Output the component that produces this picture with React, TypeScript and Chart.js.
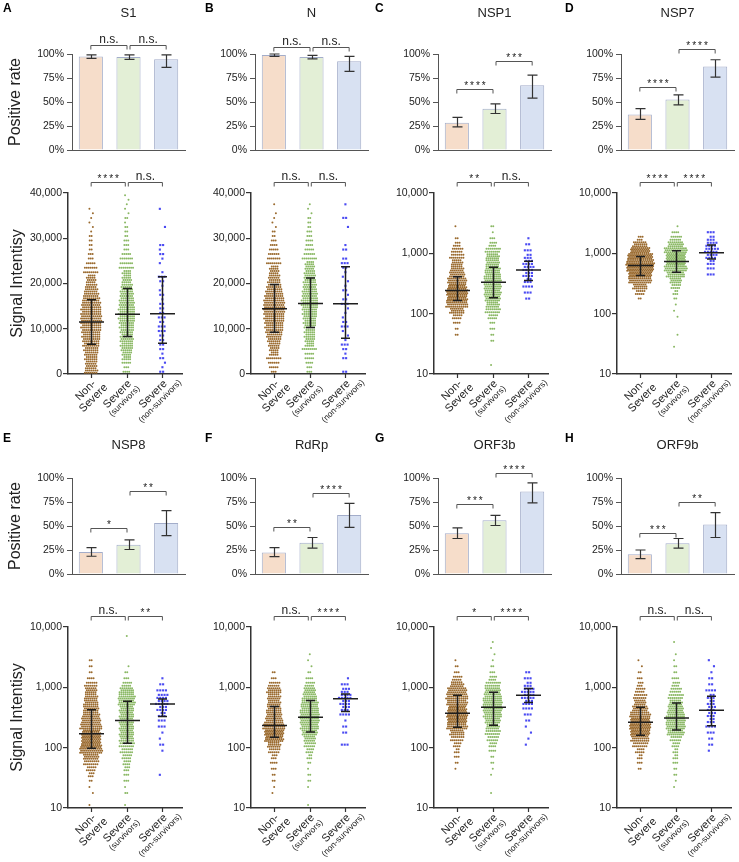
import React, { useEffect, useRef } from 'react';
import { Chart, registerables } from 'chart.js';
Chart.register(...registerables);

const FONT = '"Liberation Sans", Arial, Helvetica, sans-serif';

// ---------- DATA ----------
const panelLetters = ['A', 'B', 'C', 'D', 'E', 'F', 'G', 'H'];
const antigenNames = ['S1', 'N', 'NSP1', 'NSP7', 'NSP8', 'RdRp', 'ORF3b', 'ORF9b'];
const groupNames = ['Non-Severe', 'Severe (survivors)', 'Severe (non-survivors)'];
const xLabelLines = [['Non-', 'Severe'], ['Severe', '(survivors)'], ['Severe', '(non-survivors)']];
const rateTicks = [0, 25, 50, 75, 100];
const linearTicks = [0, 10000, 20000, 30000, 40000];
const logTicks = [10, 100, 1000, 10000];

// positive rate (%) with 95% CI
const positiveRate = [
  [97.5, 97, 94.5], [99, 96.8, 92.5], [28.5, 43, 67.5], [37, 52.5, 87],
  [23, 30.5, 53], [22.5, 32.5, 61.5], [42.5, 56, 86], [20.5, 32, 51.5],
];
const rateLower = [
  [95.5, 94.5, 86], [97.5, 95, 82], [24, 38, 54], [32, 47, 76],
  [18.5, 25.5, 40], [18, 27, 48.5], [37, 50.5, 74], [16, 27, 38],
];
const rateUpper = [
  [99, 99, 99], [100, 98.5, 97.5], [34, 48, 78], [43, 57.5, 94],
  [27.5, 35.5, 66], [27.5, 38, 73.5], [48, 61, 95], [25, 37, 64],
];
const rateBracketY = [
  [109, 109], [107, 107], [63.5, 93], [66, 105], [48, 86], [48.5, 84.5], [73, 105], [43, 75],
];
const rateSig = [
  ['n.s.', 'n.s.'], ['n.s.', 'n.s.'], ['****', '***'], ['****', '****'],
  ['*', '**'], ['**', '****'], ['***', '****'], ['***', '**'],
];
const intensitySig = [
  ['****', 'n.s.'], ['n.s.', 'n.s.'], ['**', 'n.s.'], ['****', '****'],
  ['n.s.', '**'], ['n.s.', '****'], ['*', '****'], ['n.s.', 'n.s.'],
];

// median and interquartile range of signal intensity
const intensityMedian = [
  [11500, 13200, 13300], [14400, 15600, 15500], [242, 332, 531], [628, 731, 1023],
  [170, 281, 531], [232, 318, 645], [372, 466, 740], [264, 309, 417],
];
const intensityQ1 = [
  [6600, 8300, 6800], [9200, 10300, 7900], [166, 183, 354], [430, 487, 809],
  [98, 118, 328], [149, 181, 398], [219, 236, 560], [160, 196, 230],
];
const intensityQ3 = [
  [16400, 18900, 21500], [19800, 21200, 23700], [411, 586, 736], [883, 1107, 1374],
  [427, 589, 642], [483, 606, 776], [740, 830, 960], [466, 550, 710],
];

// sample counts per intensity bin (linear: 1,000-wide bins from 0; log: 0.1-decade bins from start)
const s1Counts = [
  [14, 12, 12, 13, 14, 15, 17, 18, 19, 20, 21, 22, 22, 21, 21, 20, 18, 16, 14, 12, 10, 9, 8, 7, 5, 3, 3, 2, 2, 2, 2, 1, 1, 1, 1, 1, 1],
  [4, 3, 5, 9, 10, 12, 13, 14, 13, 14, 15, 16, 17, 17, 17, 16, 15, 14, 13, 12, 10, 9, 9, 8, 7, 7, 5, 3, 3, 3, 2, 2, 2, 1, 2, 1, 1, 1, 1, 1],
  [2, 1, 1, 2, 1, 2, 2, 2, 2, 3, 3, 2, 3, 2, 2, 2, 1, 2, 1, 1, 2, 3, 1, 0, 1, 1, 2, 1, 2, 0, 0, 0, 1, 0, 0, 0, 1],
];
const nCounts = [
  [3, 5, 6, 8, 9, 10, 12, 14, 16, 18, 19, 20, 21, 22, 22, 22, 21, 19, 17, 15, 13, 12, 10, 9, 8, 7, 6, 5, 4, 3, 2, 2, 1, 1, 1, 1, 0, 1],
  [3, 3, 4, 5, 5, 8, 9, 10, 11, 11, 12, 13, 14, 15, 16, 17, 17, 16, 15, 14, 13, 12, 11, 10, 9, 8, 6, 5, 4, 4, 3, 3, 2, 2, 2, 1, 1, 1],
  [2, 0, 0, 2, 1, 2, 3, 1, 1, 1, 3, 2, 1, 1, 1, 3, 2, 1, 2, 1, 1, 1, 1, 2, 3, 2, 0, 2, 1, 0, 0, 0, 1, 0, 2, 0, 0, 1],
];
const nsp1Start = [1.6, 1.1, 2.2];
const nsp1Counts = [
  [2, 2, 4, 10, 22, 34, 42, 44, 38, 30, 24, 20, 17, 15, 12, 7, 2, 0, 1],
  [1, 0, 0, 0, 2, 2, 3, 3, 10, 16, 20, 24, 26, 27, 27, 25, 23, 21, 20, 16, 8, 3, 1, 2],
  [2, 3, 4, 5, 7, 8, 7, 5, 3, 2, 1],
];
const nsp7Start = [2.2, 1.4, 2.6];
const nsp7Counts = [
  [2, 10, 22, 36, 48, 56, 58, 52, 40, 22, 6],
  [1, 0, 1, 0, 0, 1, 1, 1, 2, 5, 10, 18, 28, 36, 40, 40, 36, 24, 12, 4, 1],
  [3, 3, 5, 8, 10, 8, 5, 3],
];
const nsp8Start = [1.0, 1.0, 1.5];
const nsp8Counts = [
  [1, 0, 1, 1, 2, 6, 10, 16, 24, 36, 42, 40, 38, 34, 30, 26, 24, 22, 20, 18, 13, 4, 2, 2, 2],
  [1, 0, 2, 1, 3, 3, 6, 8, 10, 13, 16, 22, 22, 22, 22, 22, 22, 26, 26, 22, 10, 3, 2, 1, 0, 0, 0, 0, 1],
  [1, 0, 0, 0, 1, 2, 1, 1, 3, 3, 5, 7, 9, 8, 4, 2, 1],
];
const rdrpStart = [1.2, 1.0, 2.0];
const rdrpCounts = [
  [1, 1, 2, 2, 3, 4, 6, 12, 20, 38, 40, 34, 28, 24, 22, 20, 20, 22, 12, 3, 2],
  [1, 0, 0, 1, 2, 2, 1, 2, 5, 8, 12, 18, 24, 28, 30, 30, 28, 26, 22, 18, 10, 4, 2, 1, 1, 1],
  [3, 0, 2, 2, 1, 4, 6, 7, 9, 6, 3, 1],
];
const orf3bStart = [1.6, 1.2, 2.0];
const orf3bCounts = [
  [1, 2, 3, 5, 8, 14, 22, 32, 40, 42, 38, 32, 34, 30, 20, 10, 3, 2, 1],
  [1, 0, 0, 1, 1, 2, 2, 4, 8, 12, 16, 20, 24, 28, 30, 30, 28, 24, 16, 8, 3, 2, 1, 1, 1, 1],
  [1, 1, 1, 1, 2, 3, 4, 7, 9, 9, 5, 3, 2],
];
const orf9bStart = [1.6, 1.3, 1.9];
const orf9bCounts = [
  [2, 3, 5, 9, 16, 28, 40, 44, 40, 32, 24, 18, 14, 10, 6, 3, 2, 1, 1],
  [1, 1, 2, 2, 3, 5, 5, 8, 12, 26, 30, 30, 28, 24, 20, 16, 12, 8, 4, 2, 2, 1, 1, 0, 1],
  [1, 2, 2, 3, 4, 5, 6, 6, 5, 5, 4, 2, 2, 1, 1, 1],
];

const intensityCounts = [s1Counts, nCounts, nsp1Counts, nsp7Counts, nsp8Counts, rdrpCounts, orf3bCounts, orf9bCounts];
const intensityStarts = [[0, 0, 0], [0, 0, 0], nsp1Start, nsp7Start, nsp8Start, rdrpStart, orf3bStart, orf9bStart];
const isLogPanel = [false, false, true, true, true, true, true, true];

// ---------- STYLE / LAYOUT ----------
const barFills = ['#f6ddca', '#e3efd6', '#d8e1f2'];
const dotColors = ['#9a6a2e', '#8ab864', '#4a4af2'];
const colOffsets = [0, 183, 366, 549];
const barTops = [0, 424];
const scatterTops = [160, 594];
const letterX = [3, 205, 375, 565];
const titleY = [13, 21];
const letterY = [9, 15];
const CW = 186;
const BAR_H = 160;
const SC_H = 268;

function drawBracket(ctx: CanvasRenderingContext2D, x1: number, x2: number, yRaw: number, text: string) {
  const y = Math.round(yRaw) + 0.5;
  ctx.save();
  ctx.strokeStyle = '#555';
  ctx.lineWidth = 1;
  ctx.beginPath();
  ctx.moveTo(x1, y + 4);
  ctx.lineTo(x1, y);
  ctx.lineTo(x2, y);
  ctx.lineTo(x2, y + 4);
  ctx.stroke();
  ctx.fillStyle = '#222';
  ctx.textAlign = 'center';
  ctx.textBaseline = 'alphabetic';
  const mid = (x1 + x2) / 2;
  if (text.startsWith('*')) {
    ctx.font = `10px ${FONT}`;
    (ctx as any).letterSpacing = '2px';
    ctx.fillText(text, mid + 1, y - 1);
  } else {
    ctx.font = `12px ${FONT}`;
    ctx.fillText(text, mid, y - 3);
  }
  ctx.restore();
}

function buildDots(counts: number[], start: number, isLog: boolean, g: number) {
  const binW = isLog ? 0.1 : 1000;
  const k = isLog ? 4 : 8;
  const dx = g === 2 ? 0.08 : 0.054;
  const pts: { x: number; y: number }[] = [];
  counts.forEach((n, i) => {
    if (!n) return;
    const r = Math.max(1, Math.ceil(Math.sqrt(n / k)));
    for (let j = 0; j < r; j++) {
      const m = Math.floor(n / r) + (j < n % r ? 1 : 0);
      const t = start + binW * (i + (j + 0.5) / r);
      const y = isLog ? Math.pow(10, t) : t;
      const shift = m > 1 ? (j % 2 ? 0.25 : -0.25) : ((i % 3) - 1) * 0.9;
      for (let q = 0; q < m; q++) {
        pts.push({ x: g + 1 + (q - (m - 1) / 2 + shift) * dx, y });
      }
    }
  });
  return pts;
}

function barConfig(p: number): any {
  const col = p % 4;
  const row = Math.floor(p / 4);
  const plugin = {
    id: 'barExtras',
    afterDatasetsDraw(chart: any) {
      const { ctx, chartArea, scales } = chart;
      const y = scales.y;
      const xs = chart.getDatasetMeta(0).data.map((b: any) => b.x);
      ctx.save();
      ctx.strokeStyle = '#333';
      ctx.lineWidth = 1.2;
      for (let i = 0; i < 3; i++) {
        const xi = Math.round(xs[i]) + 0.5;
        const lo = y.getPixelForValue(rateLower[p][i]);
        const hi = y.getPixelForValue(rateUpper[p][i]);
        ctx.beginPath();
        ctx.moveTo(xi, lo); ctx.lineTo(xi, hi);
        ctx.moveTo(xi - 5, lo); ctx.lineTo(xi + 5, lo);
        ctx.moveTo(xi - 5, hi); ctx.lineTo(xi + 5, hi);
        ctx.stroke();
      }
      ctx.restore();
      for (let k = 0; k < 2; k++) {
        const yb = y.getPixelForValue(rateBracketY[p][k]);
        const x1 = xs[k] + (k === 1 ? 1.5 : 0);
        const x2 = xs[k + 1] - (k === 0 ? 1.5 : 0);
        drawBracket(ctx, x1, x2, yb, rateSig[p][k]);
      }
      ctx.save();
      ctx.fillStyle = '#222';
      ctx.textAlign = 'center';
      ctx.textBaseline = 'middle';
      ctx.font = `13px ${FONT}`;
      ctx.fillText(antigenNames[p], (chartArea.left + chartArea.right) / 2, titleY[row]);
      ctx.textAlign = 'left';
      ctx.font = `bold 12px ${FONT}`;
      ctx.fillStyle = '#000';
      ctx.fillText(panelLetters[p], letterX[col] - colOffsets[col], letterY[row]);
      ctx.restore();
    },
  };
  return {
    type: 'bar',
    data: {
      labels: groupNames,
      datasets: [{
        data: positiveRate[p],
        backgroundColor: barFills,
        borderColor: '#a3adca',
        borderWidth: 1,
        barPercentage: 0.64,
        categoryPercentage: 1,
      }],
    },
    options: {
      responsive: false,
      animation: false,
      events: [],
      layout: { padding: { top: 54, bottom: 10, left: 0, right: 1 } },
      plugins: { legend: { display: false }, tooltip: { enabled: false } },
      scales: {
        x: {
          grid: { display: false },
          ticks: { display: false },
          border: { display: true, color: '#555', width: 1 },
          afterFit: (s: any) => { s.height = 0; },
        },
        y: {
          min: 0,
          max: 100,
          afterBuildTicks: (s: any) => { s.ticks = rateTicks.map((v) => ({ value: v })); },
          ticks: { callback: (v: any) => v + '%', font: { family: FONT, size: 10.5 }, color: '#222', padding: 3 },
          grid: { drawOnChartArea: false, tickLength: 5, color: '#555', lineWidth: 1 },
          border: { color: '#555', width: 1 },
          title: col === 0
            ? { display: true, text: 'Positive rate', font: { family: FONT, size: 16 }, color: '#222', padding: { top: 6, bottom: 0 } }
            : { display: false },
          afterFit: (s: any) => { s.width = 72; },
        },
      },
    },
    plugins: [plugin],
  };
}

function scatterConfig(p: number): any {
  const col = p % 4;
  const isLog = isLogPanel[p];
  const datasets = [0, 1, 2].map((g) => ({
    data: buildDots(intensityCounts[p][g], intensityStarts[p][g], isLog, g),
    backgroundColor: dotColors[g],
    borderWidth: 0,
    pointRadius: g === 2 ? 1.5 : 1.0,
    pointStyle: g === 2 ? 'rect' : 'circle',
  }));
  const plugin = {
    id: 'scatterExtras',
    afterDatasetsDraw(chart: any) {
      const { ctx, scales } = chart;
      const x = scales.x;
      const y = scales.y;
      ctx.save();
      ctx.strokeStyle = '#1e1e1e';
      ctx.lineWidth = 1.5;
      for (let g = 0; g < 3; g++) {
        const cx = Math.round(x.getPixelForValue(g + 1)) + 0.5;
        const ym = y.getPixelForValue(intensityMedian[p][g]);
        const y1 = y.getPixelForValue(intensityQ1[p][g]);
        const y3 = y.getPixelForValue(intensityQ3[p][g]);
        ctx.beginPath();
        ctx.moveTo(cx - 12.5, ym); ctx.lineTo(cx + 12.5, ym);
        ctx.moveTo(cx, y1); ctx.lineTo(cx, y3);
        ctx.moveTo(cx - 4.5, y1); ctx.lineTo(cx + 4.5, y1);
        ctx.moveTo(cx - 4.5, y3); ctx.lineTo(cx + 4.5, y3);
        ctx.stroke();
      }
      ctx.restore();
    },
    afterDraw(chart: any) {
      const { ctx, chartArea, scales } = chart;
      const x = scales.x;
      const xs = [1, 2, 3].map((v) => x.getPixelForValue(v));
      for (let k = 0; k < 2; k++) {
        const x1 = xs[k] + (k === 1 ? 1.5 : 0);
        const x2 = xs[k + 1] - (k === 0 ? 1.5 : 0);
        drawBracket(ctx, x1, x2, chartArea.top - 11, intensitySig[p][k]);
      }
      ctx.save();
      ctx.strokeStyle = '#333';
      ctx.lineWidth = 1.2;
      ctx.beginPath();
      for (const xv of xs) {
        const xx = Math.round(xv) + 0.5;
        ctx.moveTo(xx, chartArea.bottom);
        ctx.lineTo(xx, chartArea.bottom + 4);
      }
      ctx.stroke();
      ctx.fillStyle = '#222';
      for (let g = 0; g < 3; g++) {
        ctx.save();
        ctx.translate(xs[g] + 3, chartArea.bottom + 8);
        ctx.rotate(-Math.PI / 4);
        const [l1, l2] = xLabelLines[g];
        ctx.font = `11px ${FONT}`;
        const w1 = ctx.measureText(l1).width;
        const c = -w1 / 2;
        ctx.textAlign = 'center';
        ctx.textBaseline = 'middle';
        ctx.fillText(l1, c, 0);
        const small = l2.startsWith('(');
        ctx.font = small ? `8.5px ${FONT}` : `11px ${FONT}`;
        ctx.fillText(l2, c, small ? 10 : 11);
        ctx.restore();
      }
      ctx.restore();
    },
  };
  const yTicks = isLog ? logTicks : linearTicks;
  return {
    type: 'scatter',
    data: { datasets },
    options: {
      responsive: false,
      animation: false,
      events: [],
      layout: { padding: { top: 33, bottom: 54, left: 0, right: 1 } },
      plugins: { legend: { display: false }, tooltip: { enabled: false } },
      scales: {
        x: {
          type: 'linear',
          min: 0.35,
          max: 3.55,
          grid: { display: false },
          ticks: { display: false },
          border: { display: true, color: '#333', width: 1.5 },
          afterFit: (s: any) => { s.height = 0; },
        },
        y: {
          type: isLog ? 'logarithmic' : 'linear',
          min: isLog ? 10 : 0,
          max: isLog ? 10000 : 40000,
          afterBuildTicks: (s: any) => { s.ticks = yTicks.map((v) => ({ value: v })); },
          ticks: {
            callback: (v: any) => Number(v).toLocaleString('en-US'),
            font: { family: FONT, size: 10.5 },
            color: '#222',
            padding: 1,
          },
          grid: { drawOnChartArea: false, tickLength: 5, color: '#333', lineWidth: 1.2 },
          border: { color: '#333', width: 1.5 },
          title: col === 0
            ? { display: true, text: 'Signal Intentisy', font: { family: FONT, size: 16 }, color: '#222', padding: { top: 8, bottom: 0 } }
            : { display: false },
          afterFit: (s: any) => { s.width = 68; },
        },
      },
    },
    plugins: [plugin],
  };
}

function ChartBox({ left, top, width, height, make }: { left: number; top: number; width: number; height: number; make: () => any }) {
  const ref = useRef<HTMLCanvasElement | null>(null);
  useEffect(() => {
    if (!ref.current) return;
    const chart = new Chart(ref.current, make());
    return () => chart.destroy();
  }, []);
  return (
    <div style={{ position: 'absolute', left, top, width, height }}>
      <canvas ref={ref} width={width} height={height} style={{ width, height, display: 'block' }} />
    </div>
  );
}

export default function App() {
  const boxes: React.ReactNode[] = [];
  for (let p = 0; p < 8; p++) {
    const col = p % 4;
    const row = Math.floor(p / 4);
    boxes.push(
      <ChartBox key={'b' + p} left={colOffsets[col]} top={barTops[row]} width={CW} height={BAR_H} make={() => barConfig(p)} />
    );
    boxes.push(
      <ChartBox key={'s' + p} left={colOffsets[col]} top={scatterTops[row]} width={CW} height={SC_H} make={() => scatterConfig(p)} />
    );
  }
  return (
    <div style={{ position: 'absolute', left: 0, top: 0, width: 739, height: 862, background: '#fff', overflow: 'hidden' }}>
      {boxes}
    </div>
  );
}
